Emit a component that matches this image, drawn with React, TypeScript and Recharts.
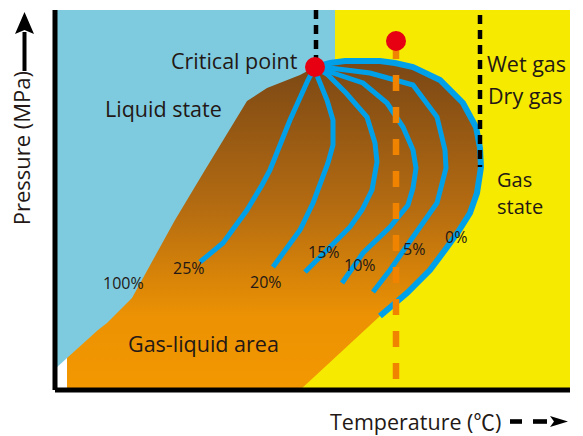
import React from 'react';
import { ComposedChart, XAxis, YAxis, Area, Line, Scatter } from 'recharts';

// Schematic phase diagram: T = temperature units, P = pressure units
const liquidBackground = [
  { T: 0, P: 380 },
  { T: 280, P: 380 },
];
const gasBackground = [
  { T: 280, P: 380 },
  { T: 515, P: 380 },
];
// upper edge of the gas-liquid (two-phase) region: bubble side then dew side top
const twoPhaseEnvelope = [
  { T: 12, P: 32 },
  { T: 43, P: 60 },
  { T: 52, P: 67 },
  { T: 77, P: 92 },
  { T: 120, P: 170 },
  { T: 150, P: 220 },
  { T: 192, P: 289 },
  { T: 212, P: 302 },
  { T: 245, P: 315 },
  { T: 260, P: 323 },
  { T: 275, P: 327 },
  { T: 290, P: 329 },
  { T: 325, P: 329 },
  { T: 340, P: 327 },
  { T: 358, P: 323 },
  { T: 385, P: 310 },
  { T: 408, P: 287 },
  { T: 421, P: 263 },
  { T: 425, P: 242 },
  { T: 426, P: 223 },
];
// gas region lying below the lower dew side of the envelope
const gasBelowEnvelope = [
  { T: 245, P: 0 },
  { T: 325, P: 74 },
  { T: 352, P: 97 },
  { T: 375, P: 120 },
  { T: 390, P: 140 },
  { T: 403, P: 158 },
  { T: 415, P: 177 },
  { T: 422, P: 197 },
  { T: 426, P: 223 },
];
const cornerGap = [
  { T: 0, P: 21 },
  { T: 12, P: 32 },
];

// liquid-fraction lines from the critical point
const quality25 = [
  { T: 260, P: 323 }, { T: 253, P: 310 }, { T: 235, P: 270 }, { T: 215, P: 220 },
  { T: 207, P: 205 }, { T: 192, P: 180 }, { T: 168, P: 147 }, { T: 145, P: 128 },
];
const quality20 = [
  { T: 260, P: 323 }, { T: 263, P: 312 }, { T: 272, P: 290 }, { T: 278, P: 270 },
  { T: 278, P: 245 }, { T: 273, P: 227 }, { T: 258, P: 187 }, { T: 245, P: 160 },
  { T: 218, P: 123 },
];
const quality15 = [
  { T: 260, P: 323 }, { T: 272, P: 316 }, { T: 291, P: 297 }, { T: 312, P: 273 },
  { T: 320, P: 247 }, { T: 322, P: 228 }, { T: 317, P: 200 }, { T: 307, P: 180 },
  { T: 295, P: 163 }, { T: 275, P: 143 }, { T: 250, P: 118 },
];
const quality10 = [
  { T: 260, P: 323 }, { T: 275, P: 318 }, { T: 308, P: 307 }, { T: 332, P: 287 },
  { T: 348, P: 263 }, { T: 358, P: 240 }, { T: 361, P: 222 }, { T: 358, P: 202 },
  { T: 353, P: 185 }, { T: 335, P: 163 }, { T: 308, P: 137 }, { T: 287, P: 107 },
];
const quality5 = [
  { T: 260, P: 323 }, { T: 275, P: 322 }, { T: 315, P: 317 }, { T: 358, P: 305 },
  { T: 382, P: 273 }, { T: 390, P: 240 }, { T: 391, P: 222 }, { T: 382, P: 187 },
  { T: 358, P: 153 }, { T: 335, P: 120 }, { T: 318, P: 98 },
];
const quality0 = [
  { T: 260, P: 323 }, { T: 275, P: 327 }, { T: 290, P: 329 }, { T: 325, P: 329 },
  { T: 340, P: 327 }, { T: 358, P: 323 }, { T: 385, P: 310 }, { T: 408, P: 287 },
  { T: 421, P: 263 }, { T: 425, P: 242 }, { T: 426, P: 223 }, { T: 422, P: 197 },
  { T: 415, P: 177 }, { T: 403, P: 158 }, { T: 390, P: 140 }, { T: 375, P: 120 },
  { T: 352, P: 97 }, { T: 325, P: 74 },
];

const criticalIsotherm = [
  { T: 261, P: 380 },
  { T: 261, P: 323 },
];
const wetDryBoundary = [
  { T: 425, P: 375 },
  { T: 425, P: 223 },
];
const reservoirPath = [
  { T: 341, P: 347 },
  { T: 341, P: 11 },
];
const criticalPoint = [{ T: 260, P: 323 }];
const initialCondition = [{ T: 341, P: 349 }];

const regionLabels = [
  { T: 116, P: 321.5, lines: ['Critical point'] },
  { T: 50, P: 273, lines: ['Liquid state'] },
  { T: 432, P: 318, lines: ['Wet gas'] },
  { T: 433, P: 286, lines: ['Dry gas'] },
  { T: 73, P: 38.5, lines: ['Gas-liquid area'] },
];
const gasStateLabel = [{ T: 442, P: 203.5, lines: ['Gas', 'state'] }];
const qualityLabels = [
  { T: 48, P: 101, text: '100%' },
  { T: 118, P: 116.5, text: '25%' },
  { T: 195, P: 102, text: '20%' },
  { T: 253, P: 132, text: '15%' },
  { T: 289, P: 119.5, text: '10%' },
  { T: 348, P: 135, text: '5%' },
  { T: 390, P: 147, text: '0%' },
];

const FONT = "'Open Sans', 'Noto Sans CJK JP', sans-serif";
const INK = '#231815';
const LIQUID = '#7ecbdf';
const GAS = '#f6ea00';
const CURVE = '#00a0e9';
const RED = '#e60012';
const PATH = '#f08300';

const PressureLabel = (props: any) => {
  const vb = props.viewBox || { x: 54, y: 10, width: 1 };
  const x0 = vb.x + (vb.width || 0);
  const y0 = vb.y;
  const tx = x0 - 25.5;
  const ty = y0 + 61;
  const ax = x0 - 30.5;
  return (
    <g>
      <text
        x={tx}
        y={ty}
        transform={`rotate(-90 ${tx} ${ty})`}
        textAnchor="end"
        fontSize={22}
        fontFamily={FONT}
        fill={INK}
      >
        Pressure (MPa)
      </text>
      <line x1={ax} y1={ty} x2={ax} y2={y0 + 22} stroke="#000" strokeWidth={4} />
      <polygon
        points={`${ax - 9.5},${y0 + 24} ${ax},${y0 + 2} ${ax + 9.5},${y0 + 24} ${ax},${y0 + 20}`}
        fill="#000"
      />
    </g>
  );
};

const TemperatureLabel = (props: any) => {
  const vb = props.viewBox || { x: 55, y: 390, width: 515 };
  const right = vb.x + (vb.width || 515);
  const y0 = vb.y;
  const cy = y0 + 31.5;
  return (
    <g>
      <text x={right - 240} y={y0 + 40} fontSize={21.5} fontFamily={FONT} fill={INK}>
        Temperature (
        <tspan fontFamily="'Noto Sans CJK JP', sans-serif">℃</tspan>)
      </text>
      <rect x={right - 60} y={cy - 2.3} width={12} height={4.6} fill="#000" />
      <rect x={right - 37} y={cy - 2.3} width={14} height={4.6} fill="#000" />
      <polygon
        points={`${right - 20},${cy - 5.5} ${right - 2},${cy} ${right - 20},${cy + 5.5} ${right - 16},${cy}`}
        fill="#000"
      />
    </g>
  );
};

const makeText = (size: number, gap: number) => (p: any) => (
  <text x={p.cx} y={p.cy} fontSize={size} fontFamily={FONT} fill={INK}>
    {p.payload.lines.map((s: string, i: number) => (
      <tspan key={i} x={p.cx} dy={i === 0 ? 0 : gap}>
        {s}
      </tspan>
    ))}
  </text>
);
const bigText = makeText(21.5, 26);
const stackedText = makeText(20, 27.4);
const smallText = (p: any) => (
  <text x={p.cx} y={p.cy} fontSize={16} fontFamily={FONT} fill={INK}>
    {p.payload.text}
  </text>
);
const redDot = (p: any) => <circle cx={p.cx} cy={p.cy} r={10} fill={RED} />;

const qualityLines = [quality25, quality20, quality15, quality10, quality5];

export default function App() {
  return (
    <div style={{ width: 583, height: 436, overflow: 'hidden', background: '#fff' }}>
      <style>{'body{margin:0;}'}</style>
      <ComposedChart
        width={583}
        height={436}
        margin={{ top: 10, right: 13, bottom: 45, left: 54 }}
      >
        <defs>
          <linearGradient id="twoPhaseFill" x1="0" y1="0" x2="0" y2="1">
            <stop offset="0%" stopColor="#7a4715" />
            <stop offset="45%" stopColor="#b56c11" />
            <stop offset="78%" stopColor="#ec9203" />
            <stop offset="100%" stopColor="#f39800" />
          </linearGradient>
        </defs>
        <XAxis
          type="number"
          dataKey="T"
          domain={[0, 515]}
          allowDataOverflow
          height={1}
          tick={false}
          tickLine={false}
          axisLine={{ stroke: '#000', strokeWidth: 5 }}
          label={TemperatureLabel}
        />
        <YAxis
          type="number"
          dataKey="P"
          domain={[0, 380]}
          allowDataOverflow
          width={1}
          tick={false}
          tickLine={false}
          axisLine={{ stroke: '#000', strokeWidth: 5 }}
          label={PressureLabel}
        />
        <Area data={liquidBackground} dataKey="P" type="linear" baseValue={0} fill={LIQUID} fillOpacity={1} stroke="none" dot={false} activeDot={false} isAnimationActive={false} />
        <Area data={gasBackground} dataKey="P" type="linear" baseValue={0} fill={GAS} fillOpacity={1} stroke="none" dot={false} activeDot={false} isAnimationActive={false} />
        <Area data={twoPhaseEnvelope} dataKey="P" type="linear" baseValue={0} fill="url(#twoPhaseFill)" fillOpacity={1} stroke="none" dot={false} activeDot={false} isAnimationActive={false} />
        <Area data={gasBelowEnvelope} dataKey="P" type="linear" baseValue={0} fill={GAS} fillOpacity={1} stroke="none" dot={false} activeDot={false} isAnimationActive={false} />
        <Area data={cornerGap} dataKey="P" type="linear" baseValue={0} fill="#ffffff" fillOpacity={1} stroke="none" dot={false} activeDot={false} isAnimationActive={false} />

        {qualityLines.map((d, i) => (
          <Line key={i} data={d} dataKey="P" type="linear" stroke={CURVE} strokeWidth={5} dot={false} activeDot={false} isAnimationActive={false} />
        ))}
        <Line data={quality0} dataKey="P" type="linear" stroke={CURVE} strokeWidth={6} dot={false} activeDot={false} isAnimationActive={false} />
        <Line data={criticalIsotherm} dataKey="P" type="linear" stroke="#000" strokeWidth={4.5} strokeDasharray="9 6" dot={false} activeDot={false} isAnimationActive={false} />
        <Line data={wetDryBoundary} dataKey="P" type="linear" stroke="#000" strokeWidth={4.5} strokeDasharray="9 6" dot={false} activeDot={false} isAnimationActive={false} />
        <Line data={reservoirPath} dataKey="P" type="linear" stroke={PATH} strokeWidth={6.5} strokeDasharray="16 16" dot={false} activeDot={false} isAnimationActive={false} />

        <Scatter data={criticalPoint} shape={redDot} isAnimationActive={false} />
        <Scatter data={initialCondition} shape={redDot} isAnimationActive={false} />
        <Scatter data={regionLabels} shape={bigText} isAnimationActive={false} />
        <Scatter data={gasStateLabel} shape={stackedText} isAnimationActive={false} />
        <Scatter data={qualityLabels} shape={smallText} isAnimationActive={false} />
      </ComposedChart>
    </div>
  );
}
